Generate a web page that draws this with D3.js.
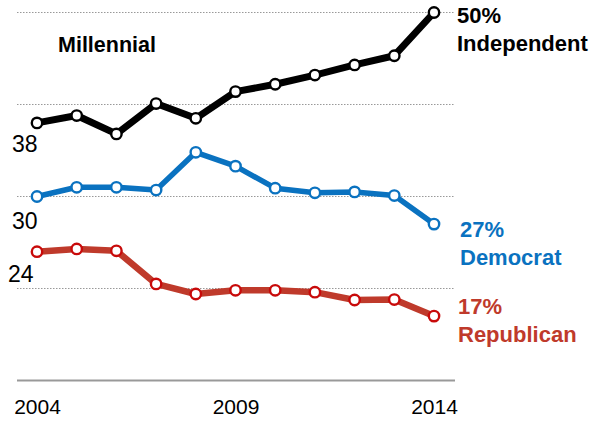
<!DOCTYPE html>
<html><head><meta charset="utf-8">
<script src="https://cdn.jsdelivr.net/npm/d3@7"></script>
<style>
html,body{margin:0;padding:0;background:#fff;}
svg{display:block;}
text{font-family:"Liberation Sans",Arial,sans-serif;}
</style></head>
<body>
<svg id="chart" width="591" height="421"></svg>
<script>
const years = [2004,2005,2006,2007,2008,2009,2010,2011,2012,2013,2014];
const independent = [38,38.8,36.8,40.1,38.5,41.4,42.2,43.2,44.3,45.3,50];
const democrat = [30,31,31,30.7,34.8,33.3,30.9,30.4,30.5,30.1,27];
const republican = [24,24.3,24.1,20.5,19.4,19.8,19.8,19.6,18.75,18.8,17];
const gridValues = [20,30,40,50];
const xTickYears = [2004,2009,2014];

const svg = d3.select("#chart");
const x = d3.scaleLinear().domain([2004,2014]).range([37,434]);
const y = d3.scaleLinear().domain([10,50]).range([380.5,12.5]);
const gridX0 = 17, gridX1 = 455;

svg.append("g").selectAll("line").data(gridValues).join("line")
  .attr("x1",gridX0).attr("x2",gridX1)
  .attr("y1",d=>y(d)).attr("y2",d=>y(d))
  .attr("stroke","#999").attr("stroke-width",1).attr("stroke-dasharray","1.5,1.5");

svg.append("line").attr("x1",gridX0).attr("x2",gridX1)
  .attr("y1",y(10)).attr("y2",y(10)).attr("stroke","#999").attr("stroke-width",2);

const xAxis = d3.axisBottom(x).tickValues(xTickYears).tickFormat(d3.format("d")).tickSize(0).tickPadding(0);
const gx = svg.append("g").attr("transform",`translate(0,${y(10)})`).call(xAxis);
gx.select(".domain").remove();
gx.selectAll("text").attr("font-size",21).attr("fill","#000").attr("dy",null).attr("y",33)
  .style("font-family","'Liberation Sans',Arial,sans-serif");

const series = [
  {name:"Independent", values:independent, line:"#000", circ:"#000", w:7, label:"50%", sub:"Independent", lx:457, ly:23, textColor:"#000", start:"38", sx:12, sy:152},
  {name:"Democrat", values:democrat, line:"#0a72c0", circ:"#0a72c0", w:5.5, label:"27%", sub:"Democrat", lx:460, ly:237, textColor:"#0a72c0", start:"30", sx:12, sy:229},
  {name:"Republican", values:republican, line:"#bf3a2b", circ:"#c80a0a", w:6.5, label:"17%", sub:"Republican", lx:458, ly:314, textColor:"#bf3a2b", start:"24", sx:8, sy:282}
];

const line = d3.line().x((d,i)=>x(years[i])).y(d=>y(d));

series.forEach(s=>{
  svg.append("path").datum(s.values).attr("d",line)
    .attr("fill","none").attr("stroke",s.line).attr("stroke-width",s.w)
    .attr("stroke-linejoin","round");
  svg.append("g").selectAll("circle").data(s.values).join("circle")
    .attr("cx",(d,i)=>x(years[i])).attr("cy",d=>y(d)).attr("r",5.2)
    .attr("fill","#fff").attr("stroke",s.circ).attr("stroke-width",2.4);
  svg.append("text").attr("x",s.lx).attr("y",s.ly).attr("font-size",22).attr("font-weight","bold")
    .attr("fill",s.textColor).text(s.label);
  svg.append("text").attr("x",s.lx).attr("y",s.ly+28).attr("font-size",22).attr("font-weight","bold")
    .attr("fill",s.textColor).text(s.sub);
  svg.append("text").attr("x",s.sx).attr("y",s.sy).attr("font-size",23)
    .attr("fill","#000").text(s.start);
});

svg.append("text").attr("x",58).attr("y",52).attr("font-size",21.5).attr("font-weight","bold")
  .attr("fill","#000").text("Millennial");
</script>
</body></html>
